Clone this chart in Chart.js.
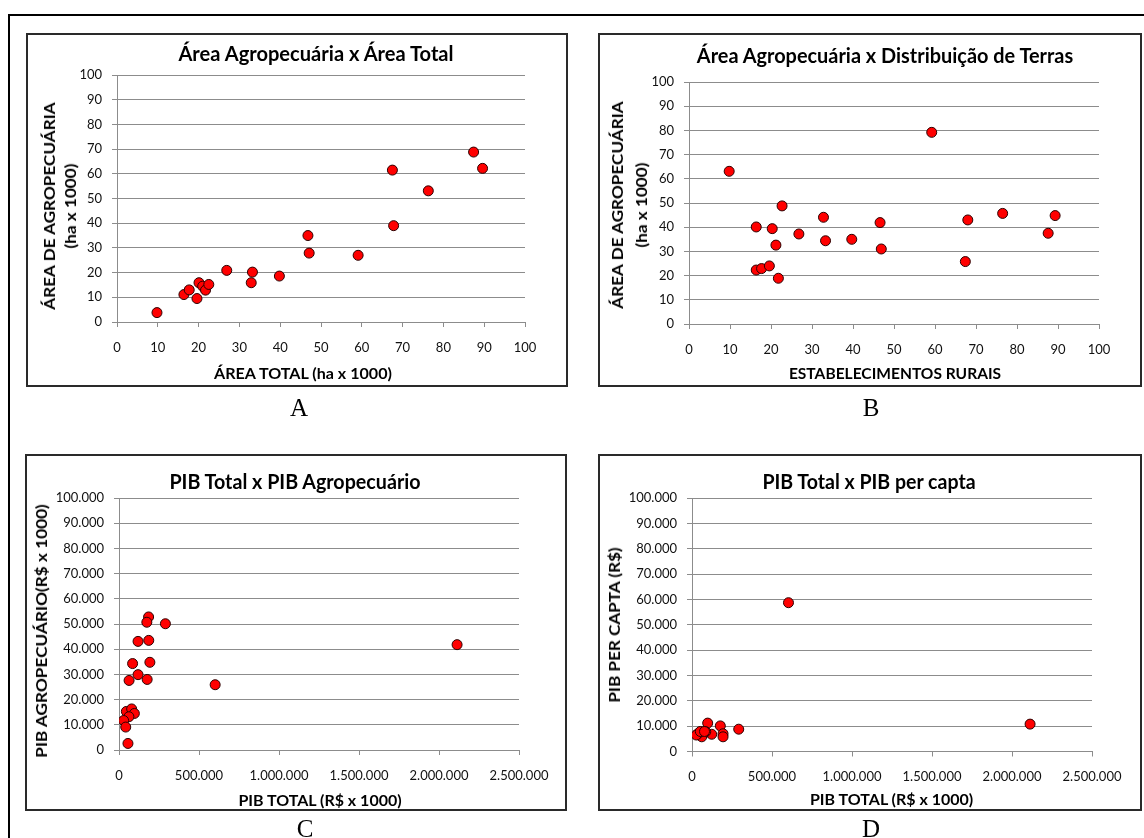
<!DOCTYPE html>
<html><head><meta charset="utf-8">
<script src="https://cdn.jsdelivr.net/npm/chart.js@4.4.1/dist/chart.umd.min.js"></script>
<style>
html,body{margin:0;padding:0;background:#fff;}
body{width:1144px;height:838px;overflow:hidden;position:relative;font-family:Lato,'Open Sans',sans-serif;}
.frame{position:absolute;left:8px;top:14px;width:1200px;height:900px;border-left:2px solid #000;border-top:2px solid #000;}
.panel{position:absolute;box-sizing:border-box;border:2px solid #2a2a2a;background:#fff;}
canvas{position:absolute;}
.t{position:absolute;white-space:nowrap;color:#000;font-weight:700;line-height:1;}
.title{font-size:20px;}
.axt{font-size:16px;}
.rot{text-align:center;}
.letter{font-family:'Liberation Serif','DejaVu Serif',serif;font-weight:400;font-size:25px;}
</style></head><body>
<div class="frame"></div>
<script>
// ---------- DATA ----------
const areaTotalA = [9.8, 16.4, 17.7, 19.6, 20.1, 21.0, 21.7, 22.5, 26.9, 32.9, 33.2, 39.8, 46.8, 47.1, 59.1, 67.5, 67.8, 76.3, 87.4, 89.6];
const areaAgroA  = [3.8, 11.1, 13.0, 9.5, 15.9, 14.5, 12.9, 15.2, 20.9, 15.9, 20.2, 18.6, 35.0, 27.9, 27.0, 61.5, 39.0, 53.1, 68.8, 62.2];

const estabB    = [9.8, 16.4, 16.4, 17.7, 19.6, 20.3, 21.2, 21.8, 22.7, 26.8, 32.8, 33.3, 39.7, 46.6, 46.9, 59.2, 67.4, 68.0, 76.5, 87.6, 89.3];
const areaAgroB = [63.1, 40.1, 22.3, 22.9, 24.0, 39.4, 32.6, 18.9, 48.8, 37.2, 44.1, 34.4, 35.0, 41.9, 31.0, 79.2, 25.8, 43.0, 45.7, 37.5, 44.8];

const pibTotalC = [2113000, 601000, 290000, 185000, 174000, 186000, 119000, 193000, 85000, 119000, 176000, 63000, 46000, 79000, 96000, 62000, 29000, 42000, 56000];
const pibAgroC  = [41800, 25900, 50100, 52800, 50700, 43500, 43100, 34800, 34300, 29900, 28000, 27600, 15300, 16300, 14500, 13200, 11700, 9100, 2600];

const pibTotalD = [2113000, 603000, 292000, 98000, 177000, 194000, 194000, 123000, 86000, 69000, 61000, 38000, 27000, 52000, 78000];
const pibCaptaD = [10800, 58700, 8800, 11200, 10100, 7000, 5800, 6800, 7800, 6800, 5800, 7100, 6500, 7900, 7900];

const areaTicks     = [0, 10, 20, 30, 40, 50, 60, 70, 80, 90, 100];
const pibTotalTicks = [0, 500000, 1000000, 1500000, 2000000, 2500000];
const pibYTicks     = [0, 10000, 20000, 30000, 40000, 50000, 60000, 70000, 80000, 90000, 100000];

const chartTitles = ['Área Agropecuária x Área Total', 'Área Agropecuária x Distribuição de Terras', 'PIB Total x PIB Agropecuário', 'PIB Total x PIB per capta'];
const xTitles = ['ÁREA TOTAL (ha x 1000)', 'ESTABELECIMENTOS RURAIS', 'PIB TOTAL (R$ x 1000)', 'PIB TOTAL (R$ x 1000)'];
const yTitles = [['ÁREA DE AGROPECUÁRIA', '(ha x 1000)'], ['ÁREA DE AGROPECUÁRIA', '(ha x 1000)'], ['PIB AGROPECUÁRIO(R$ x 1000)'], ['PIB PER  CAPTA (R$)']];
const letters = ['A', 'B', 'C', 'D'];

// ---------- LAYOUT ----------
const layoutCfg = [
  {panel:{L:26,T:33,W:542,H:354}, plot:{L:117,T:75,R:525,B:322}, title:[315.5,53,275], xt:[302.7,373,178], yt:[59,206,208], ylh:21, letter:[299,407]},
  {panel:{L:598,T:33,W:544,H:354}, plot:{L:689,T:82,R:1099,B:324}, title:[885,55,376], xt:[895,373,212], yt:[628.5,205,208], ylh:24, letter:[871,407]},
  {panel:{L:25,T:454,W:542,H:357}, plot:{L:119,T:498,R:519,B:750}, title:[294.5,481,251], xt:[320,800,163], yt:[41.3,631,254], ylh:16, letter:[305,828]},
  {panel:{L:598,T:454,W:544,H:357}, plot:{L:692,T:498,R:1092,B:751.5}, title:[868.5,481,213], xt:[891.6,799,163], yt:[614,625,155], ylh:16, letter:[871,828]}
];
const GRID = '#8c8c8c';
const TICKC = '#111111';

function fmt(v){ return String(v).replace(/\B(?=(\d{3})+(?!\d))/g, '.'); }

function addText(txt, cls, x, y, target, rotate, lh){
  const d = document.createElement('div');
  d.className = 't ' + cls;
  d.style.left = x + 'px'; d.style.top = y + 'px';
  if (lh) d.style.lineHeight = lh + 'px';
  if (Array.isArray(txt)) { txt.forEach((s,i)=>{ if(i) d.appendChild(document.createElement('br')); d.appendChild(document.createTextNode(s)); }); }
  else d.textContent = txt;
  document.body.appendChild(d);
  let k = 1;
  if (target) k = target / d.offsetWidth;
  d.style.transform = 'translate(-50%,-50%)' + (rotate ? ' rotate(-90deg)' : '') + ' scaleX(' + k.toFixed(3) + ')';
}

function makePanel(i, xs, ys, xmin, xmax, xt, yt, ymax){
  const c = layoutCfg[i];
  const p = document.createElement('div');
  p.className = 'panel';
  Object.assign(p.style, {left:c.panel.L+'px', top:c.panel.T+'px', width:c.panel.W+'px', height:c.panel.H+'px'});
  document.body.appendChild(p);
  const CL = c.panel.L + 2, CT = c.panel.T + 2, CW = c.panel.W - 4, CH = c.panel.H - 4;
  const cv = document.createElement('canvas');
  cv.width = CW; cv.height = CH;
  Object.assign(cv.style, {left:CL+'px', top:CT+'px', width:CW+'px', height:CH+'px'});
  document.body.appendChild(cv);
  const xh = 40;
  const yw = c.plot.L - CL, pt = c.plot.T - CT, pr = CL + CW - c.plot.R, pb = CT + CH - c.plot.B - xh;
  const tickFont = {family:'Lato', size:13};
  new Chart(cv, {
    type:'scatter',
    data:{datasets:[{data: xs.map((x,k)=>({x:x, y:ys[k]})), pointRadius:5, pointHoverRadius:5,
      backgroundColor:'#ff0000', borderColor:'#2a0000', borderWidth:1}]},
    options:{
      responsive:false, animation:false, events:[],
      layout:{padding:{left:0, top:pt, right:pr, bottom:pb}},
      plugins:{legend:{display:false}, tooltip:{enabled:false}, title:{display:false}},
      scales:{
        x:{type:'linear', position:'bottom', min:xmin, max:xmax,
          afterBuildTicks: s => { s.ticks = xt.map(v=>({value:v})); },
          afterFit: s => { s.height = xh; },
          ticks:{font:tickFont, color:TICKC, padding:13, maxRotation:0, autoSkip:false, callback:v=>fmt(v)},
          grid:{drawOnChartArea:false, drawTicks:true, tickLength:5, color:GRID, lineWidth:1},
          border:{color:GRID, width:1}},
        y:{type:'linear', position:'left', min:0, max:ymax,
          afterBuildTicks: s => { s.ticks = yt.map(v=>({value:v})); },
          afterFit: s => { s.width = yw; },
          ticks:{font:tickFont, color:TICKC, padding:10, autoSkip:false, callback:v=>fmt(v)},
          grid:{drawTicks:true, tickLength:5, color:GRID, lineWidth:1},
          border:{color:GRID, width:1}}
      }
    }
  });
  addText(chartTitles[i], 'title', c.title[0], c.title[1], c.title[2], false);
  addText(xTitles[i], 'axt', c.xt[0], c.xt[1], c.xt[2], false);
  addText(yTitles[i], 'axt rot', c.yt[0], c.yt[1], c.yt[2], true, c.ylh);
  addText(letters[i], 'letter', c.letter[0], c.letter[1], 0, false);
}

makePanel(0, areaTotalA, areaAgroA, 0, 100, areaTicks, areaTicks, 100);
makePanel(1, estabB, areaAgroB, 0, 100, areaTicks, areaTicks, 100);
makePanel(2, pibTotalC, pibAgroC, 0, 2500000, pibTotalTicks, pibYTicks, 100000);
makePanel(3, pibTotalD, pibCaptaD, 0, 2500000, pibTotalTicks, pibYTicks, 100000);
</script>
</body></html>
